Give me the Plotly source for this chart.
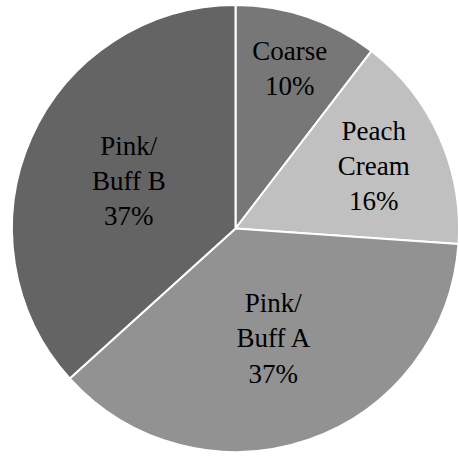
import plotly.graph_objects as go

categories = ["Coarse", "Peach Cream", "Pink/Buff A", "Pink/Buff B"]
display_labels = ["Coarse", "Peach<br>Cream", "Pink/<br>Buff A", "Pink/<br>Buff B"]
values = [10.4, 15.7, 37.2, 36.7]
colors = ["#777777", "#c0c0c0", "#929292", "#646464"]

W = H = 459

fig = go.Figure(go.Pie(
    labels=categories,
    values=values,
    text=display_labels,
    texttemplate="%{text}<br>%{percent:.0%}",
    textposition="inside",
    insidetextorientation="horizontal",
    sort=False,
    direction="clockwise",
    rotation=0,
    marker=dict(colors=colors, line=dict(color="white", width=2)),
    textfont=dict(family="Liberation Serif", size=27, color="black"),
    showlegend=False,
    hoverinfo="label+percent",
    domain=dict(x=[12 / W, 1.0], y=[6 / H, 455 / H]),
))

fig.update_layout(
    width=W, height=H,
    margin=dict(l=0, r=0, t=0, b=0),
    paper_bgcolor="white",
    plot_bgcolor="white",
    uniformtext=dict(minsize=27, mode="show"),
)

fig.write_html(
    "out.html",
    config={"displayModeBar": False},
    post_script="document.body.style.margin='0px';document.body.style.overflow='hidden';",
)
